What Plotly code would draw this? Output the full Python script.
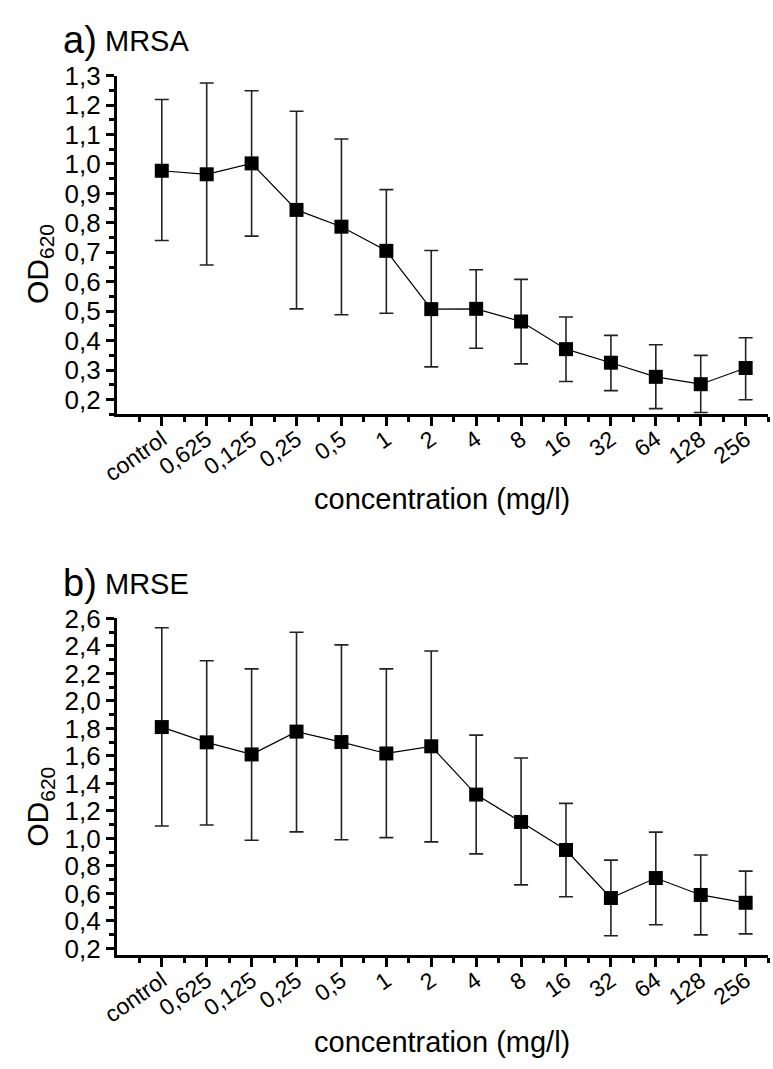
import plotly.graph_objects as go

categories = ["control", "0,625", "0,125", "0,25", "0,5", "1", "2", "4", "8", "16", "32", "64", "128", "256"]

mrsa_mean = [0.977, 0.965, 1.002, 0.844, 0.787, 0.705, 0.507, 0.508, 0.465, 0.371, 0.325, 0.277, 0.252, 0.307]
mrsa_upper = [1.219, 1.275, 1.249, 1.179, 1.085, 0.913, 0.706, 0.641, 0.608, 0.480, 0.418, 0.386, 0.350, 0.410]
mrsa_lower = [0.740, 0.657, 0.755, 0.508, 0.488, 0.493, 0.311, 0.374, 0.321, 0.261, 0.230, 0.169, 0.156, 0.199]

mrse_mean = [1.810, 1.699, 1.611, 1.777, 1.701, 1.618, 1.670, 1.319, 1.120, 0.916, 0.567, 0.712, 0.589, 0.532]
mrse_upper = [2.532, 2.292, 2.233, 2.500, 2.408, 2.233, 2.363, 1.751, 1.585, 1.255, 0.842, 1.046, 0.880, 0.762]
mrse_lower = [1.091, 1.098, 0.987, 1.048, 0.991, 1.006, 0.975, 0.888, 0.662, 0.576, 0.292, 0.372, 0.299, 0.306]

W, H = 773, 1069
FONT = "Arial, Liberation Sans, sans-serif"
xpos = list(range(len(categories)))

fig = go.Figure()

def add_series(mean, upper, lower, xa, ya):
    fig.add_trace(go.Scatter(
        x=xpos, y=mean, mode="lines+markers",
        xaxis=xa, yaxis=ya,
        line=dict(color="black", width=1.2),
        marker=dict(symbol="square", size=14, color="black"),
        error_y=dict(type="data", symmetric=False,
                     array=[u - m for u, m in zip(upper, mean)],
                     arrayminus=[m - l for m, l in zip(mean, lower)],
                     color="#222222", thickness=1.6, width=7),
        showlegend=False, cliponaxis=False,
    ))

add_series(mrsa_mean, mrsa_upper, mrsa_lower, "x", "y")
add_series(mrse_mean, mrse_upper, mrse_lower, "x2", "y2")

xdom = [103 / W, 768 / W]
top_dom = [1 - 408 / H, 1 - 62 / H]
bot_dom = [1 - 961 / H, 1 - 616.7 / H]

xminor = [v + 0.5 for v in [-1] + xpos]

def xaxis(anchor):
    return dict(domain=xdom, anchor=anchor, range=[-1, 13.5],
                tickmode="array", tickvals=xpos, ticktext=categories,
                tickangle=-35, ticks="outside", ticklen=9, tickwidth=2.5,
                tickcolor="black", showline=True, linewidth=3, linecolor="black",
                showgrid=False, zeroline=False, ticklabelstandoff=-9,
                tickfont=dict(family=FONT, size=23, color="black"),
                minor=dict(tickmode="array", tickvals=xminor, ticks="outside",
                           ticklen=5, tickwidth=2.5, tickcolor="black", showgrid=False))

def yaxis(anchor, dom, rng, dtick, minor_dtick):
    return dict(domain=dom, anchor=anchor, range=rng,
                tickmode="linear", tick0=0.2, dtick=dtick, tickformat=".1f",
                ticks="outside", ticklen=8, tickwidth=2.5, tickcolor="black",
                showline=True, linewidth=3, linecolor="black",
                showgrid=False, zeroline=False,
                tickfont=dict(family=FONT, size=26, color="black"),
                minor=dict(tick0=0.15 if minor_dtick == 0.05 else 0.1, dtick=minor_dtick,
                           ticks="outside", ticklen=5, tickwidth=2.5,
                           tickcolor="black", showgrid=False))

fig.update_layout(
    width=W, height=H,
    margin=dict(l=0, r=0, t=0, b=0),
    paper_bgcolor="white", plot_bgcolor="white",
    separators=",.",
    font=dict(family=FONT, color="black"),
    xaxis=xaxis("y"),
    yaxis=yaxis("x", top_dom, [0.15, 1.3], 0.1, 0.05),
    xaxis2=xaxis("y2"),
    yaxis2=yaxis("x2", bot_dom, [0.15, 2.6], 0.2, 0.1),
)

# major tick at the left end of each x axis (unlabelled)
shapes = []
for xr, yr in [("x", "y"), ("x2", "y2")]:
    shapes.append(dict(type="line", xref=xr, yref=yr, x0=-1, x1=-1,
                       ysizemode="pixel", yanchor=0.15, y0=0, y1=-9,
                       line=dict(color="black", width=2.5)))
fig.update_layout(shapes=shapes)

annotations = []
for dy, letter, name in [(0, "a)", "MRSA"), (554.7, "b)", "MRSE")]:
    annotations.append(dict(text=letter, x=46 / W, y=1 - (26 + dy) / H, xref="paper", yref="paper",
                            xanchor="left", yanchor="middle", showarrow=False,
                            font=dict(family=FONT, size=38, color="black")))
    annotations.append(dict(text=name, x=89 / W, y=1 - (27 + dy) / H, xref="paper", yref="paper",
                            xanchor="left", yanchor="middle", showarrow=False,
                            font=dict(family=FONT, size=29, color="black")))
    annotations.append(dict(text="concentration (mg/l)", x=435.5 / W, y=1 - (495 + dy) / H,
                            xref="paper", yref="paper", xanchor="center", yanchor="middle",
                            showarrow=False, font=dict(family=FONT, size=29, color="black")))
    annotations.append(dict(text="OD<sub>620</sub>", x=24 / W, y=1 - (255 + dy) / H,
                            xref="paper", yref="paper", xanchor="center", yanchor="middle",
                            textangle=-90, showarrow=False,
                            font=dict(family=FONT, size=30, color="black")))
fig.update_layout(annotations=annotations)

fig.write_html("out.html", config={"displayModeBar": False},
               post_script="document.body.style.margin='0';document.body.style.overflow='hidden';")
